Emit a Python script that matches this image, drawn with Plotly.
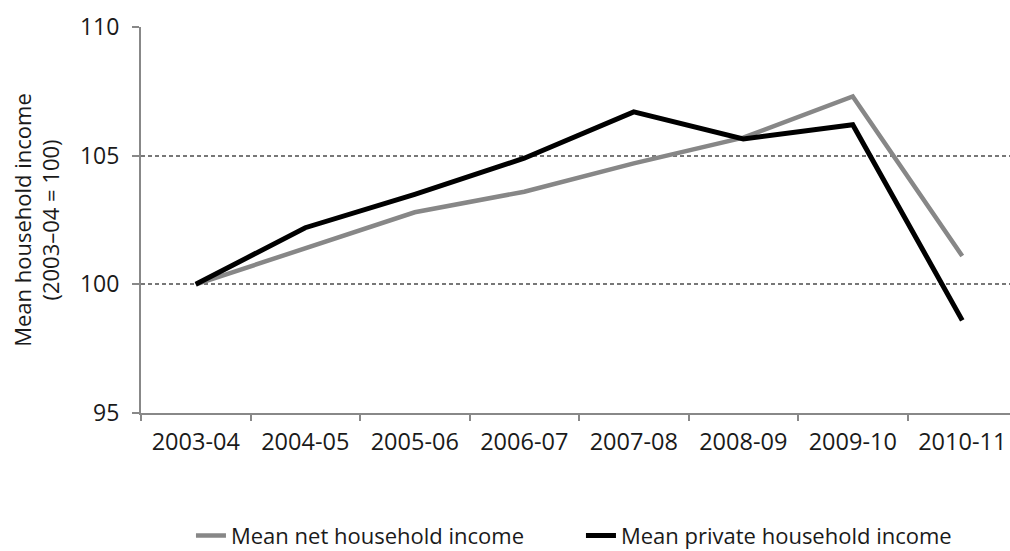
import plotly.graph_objects as go

# Financial years on the category axis
years = ["2003-04", "2004-05", "2005-06", "2006-07",
         "2007-08", "2008-09", "2009-10", "2010-11"]

# Index values (2003-04 = 100)
net_income = [100.0, 101.4, 102.8, 103.6, 104.7, 105.7, 107.3, 101.1]
private_income = [100.0, 102.2, 103.5, 104.9, 106.7, 105.65, 106.2, 98.6]

y_ticks = [95, 100, 105, 110]

FONT = "Open Sans"
TEXT = "#1a1a1a"
AXIS_GREY = "#888888"

fig = go.Figure()
fig.add_trace(go.Scatter(
    x=years, y=net_income, mode="lines",
    name="Mean net household income",
    line=dict(color="#878787", width=4.5),
))
fig.add_trace(go.Scatter(
    x=years, y=private_income, mode="lines",
    name="Mean private household income",
    line=dict(color="#000000", width=5),
))

fig.update_layout(
    width=1010, height=551,
    margin=dict(l=141, r=0, t=27, b=138, autoexpand=False),
    paper_bgcolor="white", plot_bgcolor="white",
    font=dict(family=FONT, size=22, color=TEXT),
    showlegend=True,
    legend=dict(
        orientation="h",
        x=0.0575, xanchor="left",
        y=-0.318, yanchor="middle",
        entrywidth=345,
        font=dict(family=FONT, size=22, color=TEXT),
        bgcolor="rgba(0,0,0,0)",
    ),
)

fig.update_xaxes(
    type="category",
    range=[-0.5, 7.436],
    automargin=False,
    showline=True, linecolor=AXIS_GREY, linewidth=2,
    ticks="outside", tickson="boundaries", ticklen=6,
    tickcolor=AXIS_GREY, tickwidth=1.5,
    showgrid=False, zeroline=False,
    ticklabelstandoff=7,
    tickfont=dict(family=FONT, size=23.5, color=TEXT),
)

fig.update_yaxes(
    range=[95, 110],
    tickvals=y_ticks,
    automargin=False,
    showline=True, linecolor=AXIS_GREY, linewidth=2,
    ticks="outside", ticklen=7, tickcolor=AXIS_GREY, tickwidth=1.5,
    showgrid=True, gridcolor="#777777", gridwidth=1.5, griddash="4px,3px",
    zeroline=False,
    ticklabelstandoff=8,
    tickfont=dict(family=FONT, size=23, color=TEXT),
    title=dict(
        text="Mean household income<br>(2003–04 = 100)",
        font=dict(family=FONT, size=22, color=TEXT),
        standoff=14,
    ),
)

fig.write_html("out.html")
